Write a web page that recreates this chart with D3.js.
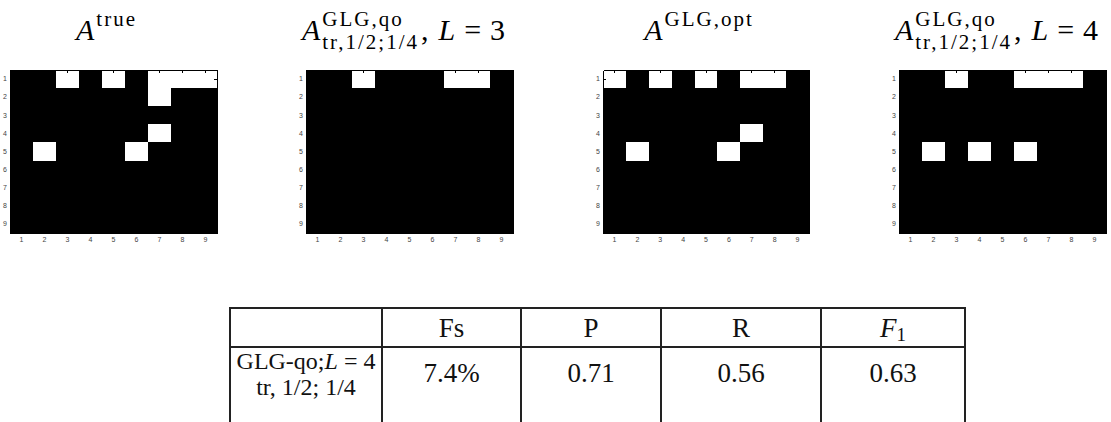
<!DOCTYPE html>
<html>
<head>
    <meta charset="utf-8">
    <script src="https://cdn.jsdelivr.net/npm/d3@7/dist/d3.min.js"></script>
    <style>
        body { margin: 0; background: #fff; }
        .tick text { font-family: "Liberation Sans", Arial, sans-serif; font-size: 7px; fill: #444; }
    </style>
</head>
<body>
    <script>
        // row / column indices of the 9x9 matrices
        var idx = [1, 2, 3, 4, 5, 6, 7, 8, 9];

        // 1 = white cell, 0 = black cell
        var aTrue = [
            [0,0,1,0,1,0,1,1,1],
            [0,0,0,0,0,0,1,0,0],
            [0,0,0,0,0,0,0,0,0],
            [0,0,0,0,0,0,1,0,0],
            [0,1,0,0,0,1,0,0,0],
            [0,0,0,0,0,0,0,0,0],
            [0,0,0,0,0,0,0,0,0],
            [0,0,0,0,0,0,0,0,0],
            [0,0,0,0,0,0,0,0,0]
        ];
        var aQoL3 = [
            [0,0,1,0,0,0,1,1,0],
            [0,0,0,0,0,0,0,0,0],
            [0,0,0,0,0,0,0,0,0],
            [0,0,0,0,0,0,0,0,0],
            [0,0,0,0,0,0,0,0,0],
            [0,0,0,0,0,0,0,0,0],
            [0,0,0,0,0,0,0,0,0],
            [0,0,0,0,0,0,0,0,0],
            [0,0,0,0,0,0,0,0,0]
        ];
        var aOpt = [
            [1,0,1,0,1,0,1,1,0],
            [0,0,0,0,0,0,0,0,0],
            [0,0,0,0,0,0,0,0,0],
            [0,0,0,0,0,0,1,0,0],
            [0,1,0,0,0,1,0,0,0],
            [0,0,0,0,0,0,0,0,0],
            [0,0,0,0,0,0,0,0,0],
            [0,0,0,0,0,0,0,0,0],
            [0,0,0,0,0,0,0,0,0]
        ];
        var aQoL4 = [
            [0,0,1,0,0,1,1,1,0],
            [0,0,0,0,0,0,0,0,0],
            [0,0,0,0,0,0,0,0,0],
            [0,0,0,0,0,0,0,0,0],
            [0,1,0,1,0,1,0,0,0],
            [0,0,0,0,0,0,0,0,0],
            [0,0,0,0,0,0,0,0,0],
            [0,0,0,0,0,0,0,0,0],
            [0,0,0,0,0,0,0,0,0]
        ];

        // table contents
        var tableHeader = ['', 'Fs', 'P', 'R', 'F1'];
        var rowLabel = ['GLG-qo;L = 4', 'tr, 1/2; 1/4'];
        var rowValues = ['7.4%', '0.71', '0.56', '0.63'];

        var serif = '"Liberation Serif", "Times New Roman", serif';

        var svg = d3.select('body').append('svg')
            .attr('width', 1111).attr('height', 422);

        // title pieces: [text, role, italic, gap before]
        var panels = [
            { left: 10,  width: 207, m: aTrue,
              title: [['A', 'm', true], ['true', 'sup', false]] },
            { left: 306, width: 207, m: aQoL3,
              title: [['A', 'm', true], ['GLG,qo', 'sup', false], ['tr,1/2;1/4', 'sub', false],
                      [',', 'm', false], ['L', 'm', true, 10], ['=', 'm', false, 9], ['3', 'm', false, 9]] },
            { left: 603, width: 206, m: aOpt,
              title: [['A', 'm', true], ['GLG,opt', 'sup', false]] },
            { left: 899, width: 207, m: aQoL4,
              title: [['A', 'm', true], ['GLG,qo', 'sup', false], ['tr,1/2;1/4', 'sub', false],
                      [',', 'm', false], ['L', 'm', true, 10], ['=', 'm', false, 9], ['4', 'm', false, 9]] }
        ];
        var plotTop = 70, plotHeight = 163;

        panels.forEach(function (p) {
            var x = d3.scaleBand().domain(idx).range([p.left, p.left + p.width]);
            var y = d3.scaleBand().domain(idx).range([plotTop, plotTop + plotHeight]);

            var cells = [];
            p.m.forEach(function (row, r) {
                row.forEach(function (v, c) { if (v) cells.push({ r: idx[r], c: idx[c] }); });
            });

            var g = svg.append('g').attr('shape-rendering', 'crispEdges');
            // black background = all zero cells
            g.append('rect')
                .attr('x', x.range()[0]).attr('y', y.range()[0])
                .attr('width', p.width).attr('height', plotHeight)
                .attr('fill', '#000');
            g.selectAll('rect.cell')
                .data(cells)
                .enter()
                .append('rect')
                .attr('class', 'cell')
                .attr('x', function (d) { return x(d.c); })
                .attr('y', function (d) { return y(d.r); })
                .attr('width', x.bandwidth())
                .attr('height', y.bandwidth())
                .attr('fill', '#fff');

            // inward ticks like matlab
            g.append('g').attr('transform', 'translate(0,' + (plotTop + plotHeight) + ')')
                .call(d3.axisBottom(x).tickSizeInner(-3).tickSizeOuter(0).tickPadding(4));
            g.append('g').attr('transform', 'translate(' + p.left + ',0)')
                .call(d3.axisLeft(y).tickSizeInner(-3).tickSizeOuter(0).tickPadding(3));
            g.append('g').attr('transform', 'translate(0,' + plotTop + ')')
                .call(d3.axisTop(x).tickSizeInner(-3).tickSizeOuter(0).tickFormat(''));
            g.append('g').attr('transform', 'translate(' + (p.left + p.width) + ',0)')
                .call(d3.axisRight(y).tickSizeInner(-3).tickSizeOuter(0).tickFormat(''));
            g.selectAll('.domain').attr('stroke', '#000');
            g.selectAll('.tick line').attr('stroke', '#000');
            g.selectAll('.tick text').attr('shape-rendering', null);

            // title built from pieces, then centred over the panel
            var tg = svg.append('g');
            var cx = 0, scriptX = 0, scriptW = 0;
            p.title.forEach(function (t) {
                var size = t[1] === 'm' ? 30 : 21;
                var yy = t[1] === 'm' ? 40 : (t[1] === 'sup' ? 26 : 49);
                if (t[1] === 'm' && scriptW) { cx = scriptX + scriptW; scriptW = 0; }
                if (t[3]) cx += t[3];
                var xx = t[1] === 'm' ? cx : scriptX;
                var el = tg.append('text')
                    .attr('x', xx).attr('y', yy)
                    .attr('font-family', serif)
                    .attr('font-size', size)
                    .attr('font-style', t[2] ? 'italic' : 'normal')
                    .attr('letter-spacing', t[1] === 'm' ? 0 : 2)
                    .text(t[0]);
                var w = el.node().getComputedTextLength();
                if (t[1] === 'm') { cx += w; scriptX = cx + 2; }
                else { scriptW = Math.max(scriptW, w + 2); }
            });
            if (scriptW) cx = scriptX + scriptW;
            var centre = p.left + p.width / 2 - 6;
            tg.attr('transform', 'translate(' + (centre - cx / 2) + ',0)');
        });

        // table
        var colEdges = [230, 382, 521, 661, 821, 965];
        var tx = d3.scaleOrdinal().domain(d3.range(6)).range(colEdges);
        var lineY = [308, 347];
        var tbl = svg.append('g').attr('stroke', '#222').attr('stroke-width', 2);
        tbl.selectAll('line.h').data(lineY).enter().append('line')
            .attr('x1', colEdges[0]).attr('x2', colEdges[5])
            .attr('y1', function (d) { return d; }).attr('y2', function (d) { return d; });
        tbl.selectAll('line.v').data(colEdges).enter().append('line')
            .attr('x1', function (d) { return d; }).attr('x2', function (d) { return d; })
            .attr('y1', lineY[0] - 1).attr('y2', 422);

        function mid(i) { return (tx(i) + tx(i + 1)) / 2; }

        var txt = svg.append('g').attr('font-family', serif).attr('font-size', 27)
            .attr('text-anchor', 'middle').attr('fill', '#111');
        tableHeader.forEach(function (h, i) {
            if (!h) return;
            var t = txt.append('text').attr('x', mid(i)).attr('y', 337);
            if (h === 'F1') {
                t.append('tspan').attr('font-style', 'italic').text('F');
                t.append('tspan').attr('font-size', 19).attr('dy', 4).text('1');
            } else t.text(h);
        });
        rowValues.forEach(function (v, i) {
            txt.append('text').attr('x', mid(i + 1)).attr('y', 382).text(v);
        });
        var l1 = txt.append('text').attr('x', mid(0)).attr('y', 369).attr('font-size', 24);
        l1.append('tspan').text('GLG-qo;');
        l1.append('tspan').attr('font-style', 'italic').text('L');
        l1.append('tspan').text(' = 4');
        txt.append('text').attr('x', mid(0)).attr('y', 395).attr('font-size', 24).text(rowLabel[1]);
    </script>
</body>
</html>
